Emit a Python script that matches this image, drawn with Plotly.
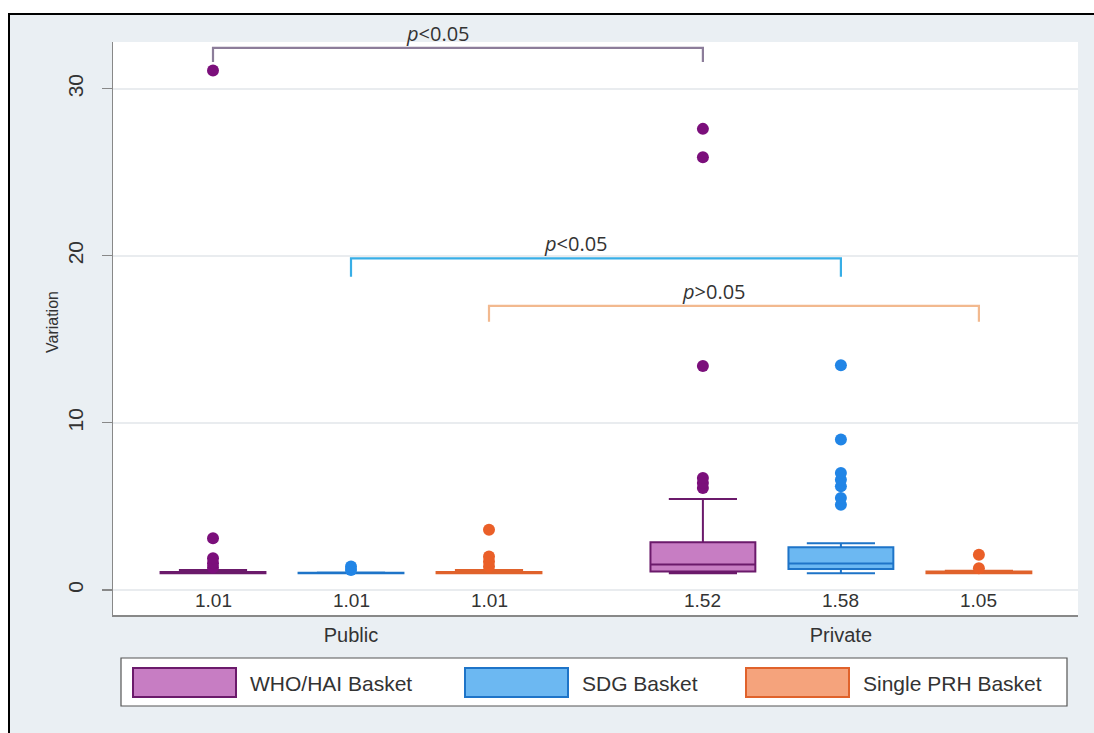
import plotly.graph_objects as go

# ---------------- data ----------------
baskets = ["WHO/HAI Basket", "SDG Basket", "Single PRH Basket"]
sectors = ["Public", "Private"]

# box statistics, order: Public WHO, Public SDG, Public PRH, Private WHO, Private SDG, Private PRH
q1_vals = [1.00, 1.00, 1.00, 1.10, 1.25, 1.00]
median_vals = [1.01, 1.01, 1.01, 1.52, 1.58, 1.05]
q3_vals = [1.08, 1.03, 1.08, 2.85, 2.55, 1.10]
lower_vals = [1.00, 1.00, 1.00, 1.00, 1.00, 1.00]
upper_vals = [1.20, 1.05, 1.20, 5.45, 2.80, 1.15]

outliers = [
    [1.35, 1.6, 1.9, 3.1, 31.1],
    [1.2, 1.4],
    [1.4, 1.7, 2.0, 3.6],
    [6.1, 6.4, 6.7, 13.4, 25.9, 27.6],
    [5.1, 5.5, 6.2, 6.6, 7.0, 9.0, 13.45],
    [1.3, 2.1],
]
median_labels = ["1.01", "1.01", "1.01", "1.52", "1.58", "1.05"]

p_labels = ["<i>p</i>&lt;0.05", "<i>p</i>&lt;0.05", "<i>p</i>&gt;0.05"]
bracket_levels = [32.45, 19.85, 17.0]

y_ticks = [0, 10, 20, 30]

# ---------------- styles ----------------
fill_colors = ["#c77dc3", "#6cb8f2", "#f5a37c"]
line_colors = ["#6b1a6b", "#1e74c8", "#e0622b"]
point_colors = ["#7b0f7b", "#2185e6", "#ea5f28"]
bracket_colors = ["#8c7d9a", "#38aee6", "#f2b98f"]
FONT = "Liberation Sans, Arial"
TXT = "#333333"

group_gap = 3.55
positions = []
for s in range(len(sectors)):
    for b in range(len(baskets)):
        positions.append(s * group_gap + b)

fig = go.Figure()

for i, pos in enumerate(positions):
    b = i % len(baskets)
    fig.add_trace(go.Box(
        x=[pos], q1=[q1_vals[i]], median=[median_vals[i]], q3=[q3_vals[i]],
        lowerfence=[lower_vals[i]], upperfence=[upper_vals[i]],
        width=0.76, whiskerwidth=0.65, boxpoints=False,
        fillcolor=fill_colors[b], line=dict(color=line_colors[b], width=2),
        name=baskets[b], showlegend=False, hoverinfo="skip",
    ))
    fig.add_trace(go.Scatter(
        x=[pos] * len(outliers[i]), y=outliers[i], mode="markers",
        marker=dict(color=point_colors[b], size=12),
        showlegend=False, hoverinfo="skip",
    ))

W, H = 1094, 733
# plot area in pixels
L, R, T, B = 113, 1078, 42, 615
unit_px = 138.0
x_lo = (L - 213) / unit_px
x_hi = (R - 213) / unit_px


def px_x(p):
    return (p - L) / (R - L)


def px_y(p):
    return (B - p) / (B - T)


annotations = []
shapes = []

# median labels
for i, pos in enumerate(positions):
    annotations.append(dict(
        x=pos, y=px_y(600), xref="x", yref="paper", text=median_labels[i],
        showarrow=False, yanchor="middle", xanchor="center",
        font=dict(family=FONT, size=19, color=TXT),
    ))

# comparison brackets
drop = [0.85, 1.1, 0.95]
for b in range(len(baskets)):
    x0 = positions[b]
    x1 = positions[b + len(baskets)]
    yl = bracket_levels[b]
    shapes.append(dict(
        type="path", xref="x", yref="y",
        path=f"M {x0},{yl - drop[b]} L {x0},{yl} L {x1},{yl} L {x1},{yl - drop[b]}",
        line=dict(color=bracket_colors[b], width=2.2),
    ))
    annotations.append(dict(
        x=(x0 + x1) / 2, y=yl, xref="x", yref="y", text=p_labels[b],
        showarrow=False, yanchor="bottom", xanchor="center", xshift=-20, yshift=-1,
        font=dict(family="Open Sans, Liberation Sans", size=20, color=TXT),
    ))

# y axis title
annotations.append(dict(
    x=px_x(52), y=px_y(322), xref="paper", yref="paper", text="Variation",
    textangle=-90, showarrow=False, xanchor="center", yanchor="middle",
    font=dict(family=FONT, size=16, color=TXT),
))

# manual legend
shapes.append(dict(
    type="rect", xref="paper", yref="paper",
    x0=px_x(121), x1=px_x(1067), y0=px_y(706), y1=px_y(658),
    fillcolor="white", line=dict(color="#555555", width=1.2),
))
sw_left = [133, 465, 746]
for b in range(len(baskets)):
    shapes.append(dict(
        type="rect", xref="paper", yref="paper",
        x0=px_x(sw_left[b]), x1=px_x(sw_left[b] + 103), y0=px_y(697), y1=px_y(668),
        fillcolor=fill_colors[b], line=dict(color=line_colors[b], width=2),
    ))
    annotations.append(dict(
        x=px_x(sw_left[b] + 115), y=px_y(683), xref="paper", yref="paper",
        text=baskets[b], showarrow=False, xanchor="left", yanchor="middle",
        font=dict(family=FONT, size=21, color=TXT),
    ))

# outer frame: white strips and black border line
shapes.append(dict(type="rect", xref="paper", yref="paper",
                   x0=px_x(0), x1=px_x(8), y0=px_y(740), y1=px_y(0),
                   fillcolor="white", line=dict(width=0), layer="below"))
shapes.append(dict(type="rect", xref="paper", yref="paper",
                   x0=px_x(0), x1=px_x(1100), y0=px_y(13), y1=px_y(0),
                   fillcolor="white", line=dict(width=0), layer="below"))
shapes.append(dict(type="line", xref="paper", yref="paper",
                   x0=px_x(9), x1=px_x(9), y0=px_y(740), y1=px_y(13),
                   line=dict(color="black", width=2)))
shapes.append(dict(type="line", xref="paper", yref="paper",
                   x0=px_x(8), x1=px_x(1100), y0=px_y(14), y1=px_y(14),
                   line=dict(color="black", width=2)))

group_centers = [positions[s * len(baskets) + 1] for s in range(len(sectors))]

fig.update_layout(
    width=W, height=H,
    margin=dict(l=L, r=W - R, t=T, b=H - B, pad=0),
    paper_bgcolor="#eaeff3",
    plot_bgcolor="white",
    showlegend=False,
    shapes=shapes,
    annotations=annotations,
    xaxis=dict(
        range=[x_lo, x_hi], tickvals=group_centers, ticktext=sectors,
        showgrid=False, zeroline=False, showline=True, linecolor="#888888", linewidth=1.5,
        ticks="", ticklabelstandoff=1,
        tickfont=dict(family=FONT, size=20, color=TXT),
    ),
    yaxis=dict(
        range=[-1.5, 32.8], tickvals=y_ticks, tickangle=-90,
        showgrid=True, gridcolor="#e9ecef", gridwidth=2, zeroline=False,
        showline=True, linecolor="#888888", linewidth=1.5,
        ticks="outside", ticklen=10, tickcolor="#888888", tickwidth=1.2,
        ticklabelstandoff=10,
        tickfont=dict(family=FONT, size=21, color=TXT),
    ),
)

fig.write_html(
    "out.html",
    config={"displayModeBar": False, "staticPlot": True},
    post_script="document.body.style.margin='0';document.body.style.overflow='hidden';",
)
